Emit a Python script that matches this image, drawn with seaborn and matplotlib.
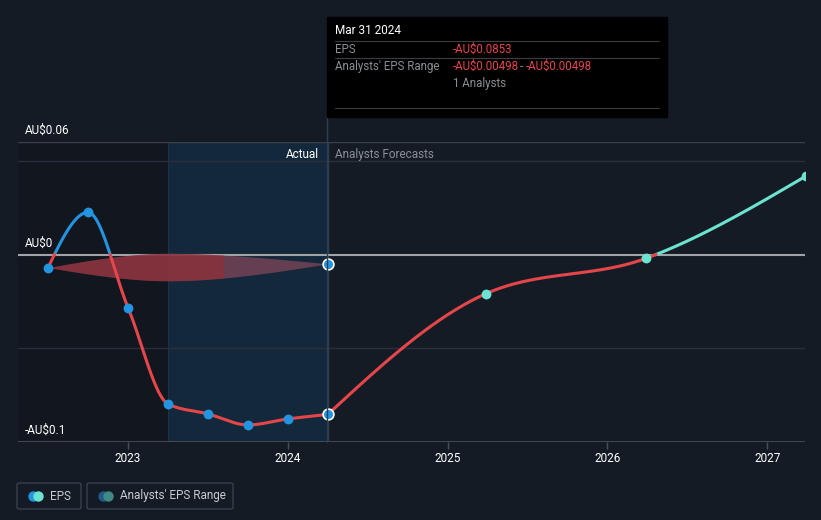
import numpy as np
import pandas as pd
import matplotlib
matplotlib.use("Agg")
import matplotlib.pyplot as plt
from matplotlib.patches import FancyBboxPatch, Rectangle
import seaborn as sns

# ---------------- data ----------------
actual_dates = [2022.5, 2022.75, 2023.0, 2023.25, 2023.5, 2023.75, 2024.0, 2024.25]
actual_eps = [-0.00695, 0.0225, -0.0283, -0.0797, -0.0850, -0.0909, -0.0877, -0.0853]

forecast_dates = [2024.25, 2025.24, 2026.24, 2027.24]
forecast_eps = [-0.0853, -0.0209, -0.0021, 0.0417]

range_dates = [2022.5, 2023.25, 2024.25]
range_high = [-0.00695, 0.0006, -0.00498]
range_low = [-0.00695, -0.0140, -0.00498]

year_ticks = [2023, 2024, 2025, 2026, 2027]
y_labels = {0.06: "AU$0.06", 0.0: "AU$0", -0.1: "-AU$0.1"}

# ---------------- colours ----------------
BG = "#151b25"
DARK = "#11161f"
ACT = "#13283a"
BLUE = "#2394df"
RED = "#e5464a"
TEAL = "#6be3d0"
GRID = "#2a303b"
GREY = "#8a8f96"

sns.set_style("dark")
plt.rcParams["font.family"] = ["Roboto", "DejaVu Sans"]


def monotone(xs, ys, n=400):
    xs = np.asarray(xs, float)
    ys = np.asarray(ys, float)
    h = np.diff(xs)
    d = np.diff(ys) / h
    m = np.zeros(len(xs))
    for i in range(1, len(xs) - 1):
        if d[i - 1] * d[i] <= 0:
            m[i] = 0
        else:
            p = (d[i - 1] * h[i] + d[i] * h[i - 1]) / (h[i - 1] + h[i])
            m[i] = (np.sign(d[i - 1]) + np.sign(d[i])) * min(abs(d[i - 1]), abs(d[i]), 0.5 * abs(p))
    m[0] = (3 * d[0] - m[1]) / 2 if len(xs) > 2 else d[0]
    m[-1] = (3 * d[-1] - m[-2]) / 2 if len(xs) > 2 else d[-1]
    ox, oy = [], []
    for i in range(len(xs) - 1):
        t = np.linspace(0, 1, n)
        h00 = 2 * t**3 - 3 * t**2 + 1
        h10 = t**3 - 2 * t**2 + t
        h01 = -2 * t**3 + 3 * t**2
        h11 = t**3 - t**2
        ox.append(xs[i] + t * h[i])
        oy.append(h00 * ys[i] + h10 * h[i] * m[i] + h01 * ys[i + 1] + h11 * h[i] * m[i + 1])
    return np.concatenate(ox), np.concatenate(oy)


fig = plt.figure(figsize=(8.21, 5.2), dpi=100)
fig.patch.set_facecolor(BG)
W, H = 821, 520
L, R, T, B = 18, 805, 142, 442
ax = fig.add_axes([L / W, 1 - B / H, (R - L) / W, (B - T) / H])
ax.set_facecolor(BG)
ax.grid(False)
x0 = 2023 - (128 - L) / 159.8
x1 = 2023 + (R - 128) / 159.8
ax.set_xlim(x0, x1)
ax.set_ylim(-0.1, 0.06)
for s in ax.spines.values():
    s.set_visible(False)

# background regions
ax.axvspan(x0, 2023.25, color=DARK, zorder=0, lw=0)
ax.axvspan(2023.25, 2024.25, color=ACT, zorder=0, lw=0)
ax.axvline(2023.25, color="#1c3349", lw=0.8, zorder=0.5)

# grid lines
for yv in [0.05, -0.05]:
    ax.axhline(yv, color=GRID, lw=1, zorder=1)
ax.axhline(0.06, color="#3a404b", lw=1, zorder=1)
ax.axhline(-0.1, color="#4a505b", lw=1.2, zorder=1)
ax.axhline(0.0, color="#a0a3a8", lw=1.5, zorder=2)
ax.axvline(2024.25, color="#2c3f52", lw=1, zorder=1.5)

# range band (gradient-ish: two layers)
rx, rh = monotone(range_dates, range_high)
_, rl = monotone(range_dates, range_low)
ax.fill_between(rx, rl, rh, color="#7a4458", alpha=0.8, lw=0, zorder=2.5)
wmask = rx <= 2023.6
ax.fill_between(rx[wmask], rl[wmask], rh[wmask], color="#9a2a30", alpha=0.55, lw=0, zorder=2.6)


def split_line(xs, ys, pos_color, neg_color):
    pos = ys >= 0
    posm = pos.copy()
    posm[1:] |= pos[:-1]
    posm[:-1] |= pos[1:]
    neg = ~pos
    negm = neg.copy()
    negm[1:] |= neg[:-1]
    negm[:-1] |= neg[1:]
    ax.plot(xs, np.where(posm, ys, np.nan), color=pos_color, lw=2.2, zorder=3, solid_capstyle="round")
    ax.plot(xs, np.where(negm, ys, np.nan), color=neg_color, lw=2.2, zorder=3, solid_capstyle="round")


ax_x, ax_y = monotone(actual_dates, actual_eps)
split_line(ax_x, ax_y, BLUE, RED)
fx, fy = monotone(forecast_dates, forecast_eps)
split_line(fx, fy, TEAL, RED)

act_df = pd.DataFrame({"date": actual_dates, "eps": actual_eps})
sns.scatterplot(data=act_df.iloc[:-1], x="date", y="eps", ax=ax, color=BLUE, s=50,
                linewidth=0, zorder=4, legend=False)
sns.scatterplot(data=act_df.iloc[-1:], x="date", y="eps", ax=ax, color=BLUE, s=60,
                edgecolor="white", linewidth=1.2, zorder=5, legend=False)
sns.scatterplot(x=[range_dates[-1]], y=[range_high[-1]], ax=ax, color=BLUE, s=60,
                edgecolor="white", linewidth=1.2, zorder=5, legend=False)
fc_df = pd.DataFrame({"date": forecast_dates[1:], "eps": forecast_eps[1:]})
sns.scatterplot(data=fc_df, x="date", y="eps", ax=ax, color=TEAL, s=50, linewidth=0,
                zorder=4, legend=False)
for c in ax.collections:
    c.set_clip_on(True)

ax.set_xticks(year_ticks)
ax.set_xticklabels([str(y) for y in year_ticks])
ax.tick_params(axis="x", colors="#4a505b", labelcolor="#ffffff", length=5, width=1,
               labelsize=8.5, pad=2, bottom=True)
ax.tick_params(axis="y", left=False, labelleft=False)
ax.set_yticks([])
ax.set_xlabel("")
ax.set_ylabel("")

for yv, lab in y_labels.items():
    ypix = 255 - yv * 1870 - 12
    fig.text(25 / W, 1 - ypix / H, lab, color="white", fontsize=8.5, va="center", ha="left")

fig.text(319 / W, 1 - 154 / H, "Actual", color="white", fontsize=8.5, ha="right", va="center")
fig.text(335 / W, 1 - 154 / H, "Analysts Forecasts", color=GREY, fontsize=8.5, ha="left", va="center")

# tooltip
fig.patches.append(Rectangle((327 / W, 1 - 117 / H), (667 - 327) / W, 100 / H,
                             transform=fig.transFigure, color="#000000", zorder=10))
fig.add_artist(plt.Line2D([327 / W, 327 / W], [1 - 442 / H, 1 - 117 / H], color="#2c3f52", lw=1, zorder=1))
for yl in [41, 58, 108]:
    fig.add_artist(plt.Line2D([335 / W, 659 / W], [1 - yl / H, 1 - yl / H], color="#3a3d42", lw=0.8, zorder=11))
fig.text(335 / W, 1 - 31 / H, "Mar 31 2024", color="white", fontsize=8.5, va="center", zorder=12)
fig.text(335 / W, 1 - 49.5 / H, "EPS", color=GREY, fontsize=8.3, va="center", zorder=12)
fig.text(453 / W, 1 - 49.5 / H, "-AU$0.0853", color=RED, fontsize=8.3, va="center", zorder=12)
fig.text(335 / W, 1 - 66.5 / H, "Analysts' EPS Range", color=GREY, fontsize=8.3, va="center", zorder=12)
fig.text(453 / W, 1 - 66.5 / H, "-AU$0.00498", color=RED, fontsize=8.3, va="center", zorder=12)
fig.text(521.5 / W, 1 - 66.5 / H, "-", color=GREY, fontsize=8.3, va="center", ha="center", zorder=12)
fig.text(526 / W, 1 - 66.5 / H, "-AU$0.00498", color=RED, fontsize=8.3, va="center", zorder=12)
fig.text(453 / W, 1 - 83 / H, "1 Analysts", color=GREY, fontsize=8.3, va="center", zorder=12)

# legend
for (bx0, bx1, label, c1, c2) in [(17, 81, "EPS", BLUE, TEAL),
                                  (87, 233, "Analysts' EPS Range", "#1f5a8a", "#3f8a86")]:
    fig.patches.append(FancyBboxPatch((bx0 / W, 1 - 509 / H), (bx1 - bx0) / W, 26 / H,
                                      boxstyle="round,pad=0,rounding_size=0.003",
                                      transform=fig.transFigure, facecolor=BG,
                                      edgecolor="#3a404b", lw=1))
    fig.add_artist(plt.Line2D([(bx0 + 16) / W], [1 - 496 / H], marker="o", ms=7.5,
                              color=c1, mec="none"))
    fig.add_artist(plt.Line2D([(bx0 + 21) / W], [1 - 496 / H], marker="o", ms=7.5,
                              color=c2, mec="none"))
    fig.text((bx0 + 33) / W, 1 - 496 / H, label, color="#c8cbd0", fontsize=8.5, va="center")

fig.savefig("out.png", dpi=100, facecolor=BG)
